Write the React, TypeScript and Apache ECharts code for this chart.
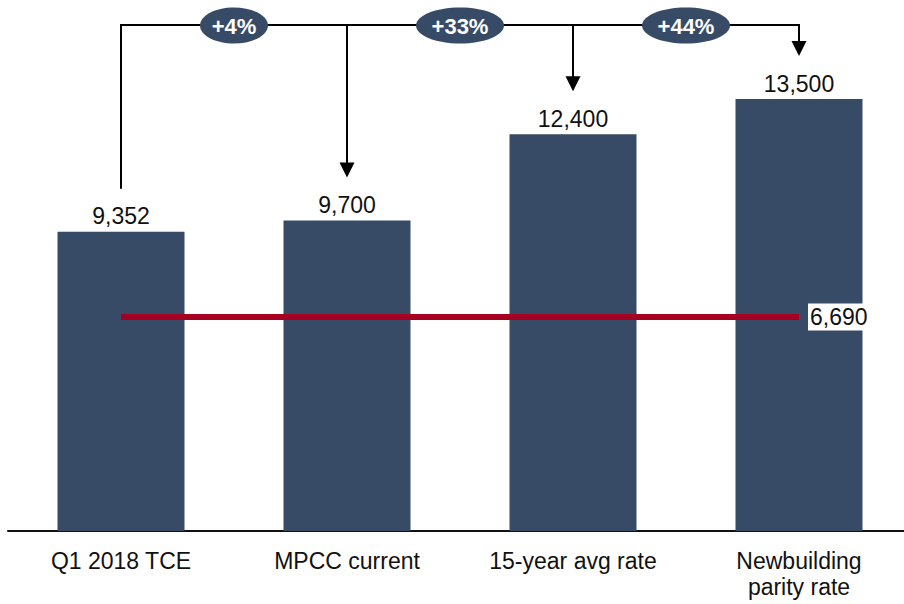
import React, { useEffect, useRef } from "react";
import * as echarts from "echarts";

const categories = ["Q1 2018 TCE", "MPCC current", "15-year avg rate", "Newbuilding\nparity rate"];
const rates = [9352, 9700, 12400, 13500];
const breakevenRate = 6690;

const BAR_COLOR = "#374B66";
const RED = "#A50021";
const FONT = "'Liberation Sans', Arial, sans-serif";

const fmt = (v: number) => v.toLocaleString("en-US");

export default function App() {
  const ref = useRef<HTMLDivElement>(null);

  useEffect(() => {
    if (!ref.current) return;
    const chart = echarts.init(ref.current, undefined, { renderer: "svg" });
    const base = rates[0];
    const bracketY = 25;
    const gap = 43;

    chart.setOption({
      animation: false,
      grid: { left: 8, top: 99, bottom: 73, right: 8, containLabel: false },
      xAxis: {
        type: "category",
        data: categories,
        axisLine: { show: true, lineStyle: { color: "#111", width: 2 } },
        axisTick: { show: false },
        axisLabel: {
          color: "#111",
          fontFamily: FONT,
          fontSize: 23,
          lineHeight: 26,
          margin: 17,
          interval: 0,
        },
      },
      yAxis: {
        type: "value",
        min: 0,
        max: 13500,
        show: false,
        splitLine: { show: false },
      },
      series: [
        {
          type: "bar",
          data: rates,
          barWidth: 127,
          itemStyle: { color: BAR_COLOR },
          label: {
            show: true,
            position: "top",
            distance: 4,
            color: "#111",
            fontFamily: FONT,
            fontSize: 23,
            formatter: (p: any) => fmt(p.value),
          },
          markLine: {
            silent: true,
            symbol: ["none", "none"],
            lineStyle: { color: RED, width: 6, type: "solid" },
            label: {
              show: true,
              position: "end",
              distance: 9,
              color: "#111",
              backgroundColor: "#fff",
              padding: [2, 2, 2, 2],
              fontFamily: FONT,
              fontSize: 23,
              formatter: () => fmt(breakevenRate),
            },
            data: [[{ coord: [0, breakevenRate] }, { coord: [categories.length - 1, breakevenRate] }]],
          },
          z: 2,
        },
        {
          type: "custom",
          data: rates.map((v, i) => [i, v]),
          encode: { x: 0, y: 1 },
          clip: false,
          z: 5,
          renderItem: (params: any, api: any) => {
            const i = params.dataIndex;
            const [cx, top] = api.coord([i, api.value(1)]);
            const endY = top - gap;
            const children: any[] = [];
            if (i === 0) {
              children.push({
                type: "line",
                shape: { x1: cx, y1: endY, x2: cx, y2: bracketY - 1 },
                style: { stroke: "#000", lineWidth: 2 },
              });
            } else {
              const px = api.coord([i - 1, api.value(1)])[0];
              const midX = (px + cx) / 2;
              const pct = Math.round((api.value(1) / base - 1) * 100);
              children.push(
                {
                  type: "line",
                  shape: { x1: px, y1: bracketY, x2: cx + 1, y2: bracketY },
                  style: { stroke: "#000", lineWidth: 2 },
                },
                {
                  type: "line",
                  shape: { x1: cx, y1: bracketY, x2: cx, y2: endY - 12 },
                  style: { stroke: "#000", lineWidth: 2 },
                },
                {
                  type: "polygon",
                  shape: { points: [[cx - 7.5, endY - 15], [cx + 7.5, endY - 15], [cx, endY]] },
                  style: { fill: "#000" },
                },
                {
                  type: "ellipse",
                  shape: { cx: midX, cy: bracketY + 0.5, rx: pct < 10 ? 34 : 44, ry: 18 },
                  style: { fill: BAR_COLOR },
                  z2: 10,
                },
                {
                  type: "text",
                  style: {
                    text: `+${pct}%`,
                    x: midX,
                    y: bracketY + 1,
                    textAlign: "center",
                    textVerticalAlign: "middle",
                    fill: "#fff",
                    fontFamily: FONT,
                    fontWeight: "bold",
                    fontSize: 22,
                  },
                  z2: 11,
                }
              );
            }
            return { type: "group", children };
          },
        },
      ],
    });

    return () => chart.dispose();
  }, []);

  return (
    <div style={{ position: "absolute", left: 0, top: 0, width: 904, height: 604, overflow: "hidden", background: "#fff" }}>
      <div ref={ref} style={{ width: 920, height: 604 }} />
    </div>
  );
}
